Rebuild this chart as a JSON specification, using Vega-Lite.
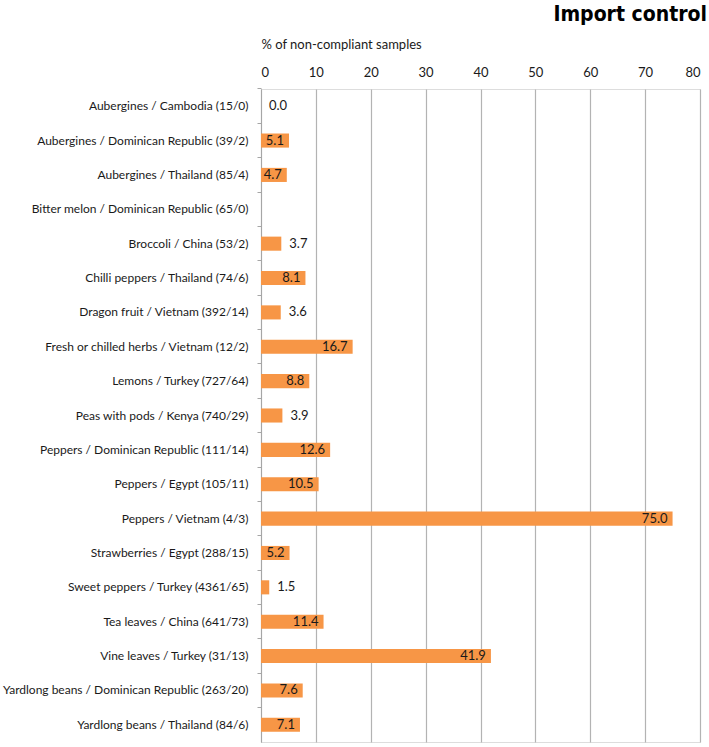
{
  "$schema": "https://vega.github.io/schema/vega-lite/v6.json",
  "autosize": "none",
  "width": 439,
  "height": 653,
  "padding": {"left": 261, "top": 89, "right": 9, "bottom": 5},
  "background": "white",
  "title": {"text": "Import control", "anchor": "end", "font": "DejaVu Sans Condensed", "fontWeight": "bold", "fontSize": 21, "color": "#000000", "offset": 13, "dx": 7},
  "data": {"values": [
    {"item": "Aubergines / Cambodia (15/0)", "value": 0.0},
    {"item": "Aubergines / Dominican Republic  (39/2)", "value": 5.1},
    {"item": "Aubergines / Thailand (85/4)", "value": 4.7},
    {"item": "Bitter melon / Dominican Republic  (65/0)", "value": null},
    {"item": "Broccoli / China (53/2)", "value": 3.7},
    {"item": "Chilli peppers / Thailand (74/6)", "value": 8.1},
    {"item": "Dragon fruit / Vietnam (392/14)", "value": 3.6},
    {"item": "Fresh or chilled herbs / Vietnam  (12/2)", "value": 16.7},
    {"item": "Lemons / Turkey (727/64)", "value": 8.8},
    {"item": "Peas with pods / Kenya (740/29)", "value": 3.9},
    {"item": "Peppers / Dominican Republic  (111/14)", "value": 12.6},
    {"item": "Peppers / Egypt (105/11)", "value": 10.5},
    {"item": "Peppers / Vietnam (4/3)", "value": 75.0},
    {"item": "Strawberries / Egypt (288/15)", "value": 5.2},
    {"item": "Sweet peppers / Turkey (4361/65)", "value": 1.5},
    {"item": "Tea leaves / China (641/73)", "value": 11.4},
    {"item": "Vine leaves / Turkey (31/13)", "value": 41.9},
    {"item": "Yardlong beans / Dominican Republic  (263/20)", "value": 7.6},
    {"item": "Yardlong beans / Thailand (84/6)", "value": 7.1}
  ]},
  "encoding": {
    "y": {
      "field": "item", "type": "nominal",
      "scale": {"domain": [
        "Aubergines / Cambodia (15/0)",
        "Aubergines / Dominican Republic  (39/2)",
        "Aubergines / Thailand (85/4)",
        "Bitter melon / Dominican Republic  (65/0)",
        "Broccoli / China (53/2)",
        "Chilli peppers / Thailand (74/6)",
        "Dragon fruit / Vietnam (392/14)",
        "Fresh or chilled herbs / Vietnam  (12/2)",
        "Lemons / Turkey (727/64)",
        "Peas with pods / Kenya (740/29)",
        "Peppers / Dominican Republic  (111/14)",
        "Peppers / Egypt (105/11)",
        "Peppers / Vietnam (4/3)",
        "Strawberries / Egypt (288/15)",
        "Sweet peppers / Turkey (4361/65)",
        "Tea leaves / China (641/73)",
        "Vine leaves / Turkey (31/13)",
        "Yardlong beans / Dominican Republic  (263/20)",
        "Yardlong beans / Thailand (84/6)"
      ], "paddingInner": 0, "paddingOuter": 0},
      "axis": {
        "title": null,
        "bandPosition": 0,
        "domainColor": "#a6a6a6",
        "tickColor": "#a6a6a6",
        "tickSize": 4,
        "labelPadding": 9,
        "labelFont": "Lato",
        "labelFontSize": 12,
        "labelColor": "#1a1a1a",
        "labelLimit": 300,
        "grid": false
      }
    },
    "x": {
      "field": "value", "type": "quantitative",
      "scale": {"domain": [0, 80], "nice": false},
      "axis": {
        "orient": "top",
        "values": [0, 10, 20, 30, 40, 50, 60, 70, 80],
        "title": "% of non-compliant samples",
        "titleAnchor": "start",
        "titleAlign": "left",
        "titleFont": "Lato",
        "titleFontSize": 13,
        "titleFontWeight": "normal",
        "titleColor": "#1a1a1a",
        "titlePadding": 15,
        "labelFont": "Lato",
        "labelFontSize": 13,
        "labelColor": "#1a1a1a",
        "labelPadding": 10,
        "ticks": false,
        "domain": false,
        "grid": true,
        "gridColor": "#b3b3b3",
        "gridWidth": 1.2
      }
    }
  },
  "layer": [
    {
      "mark": {"type": "bar", "color": "#F79646", "height": {"band": 0.41}}
    },
    {
      "transform": [{"filter": "datum.value >= 4.5"}],
      "mark": {"type": "text", "align": "right", "dx": -5, "font": "Lato", "fontSize": 13, "color": "#1a1a1a"},
      "encoding": {"text": {"field": "value", "type": "quantitative", "format": ".1f"}}
    },
    {
      "transform": [{"filter": "datum.value != null && datum.value < 4.5"}],
      "mark": {"type": "text", "align": "left", "dx": 8, "font": "Lato", "fontSize": 13, "color": "#1a1a1a"},
      "encoding": {"text": {"field": "value", "type": "quantitative", "format": ".1f"}}
    }
  ]
}
